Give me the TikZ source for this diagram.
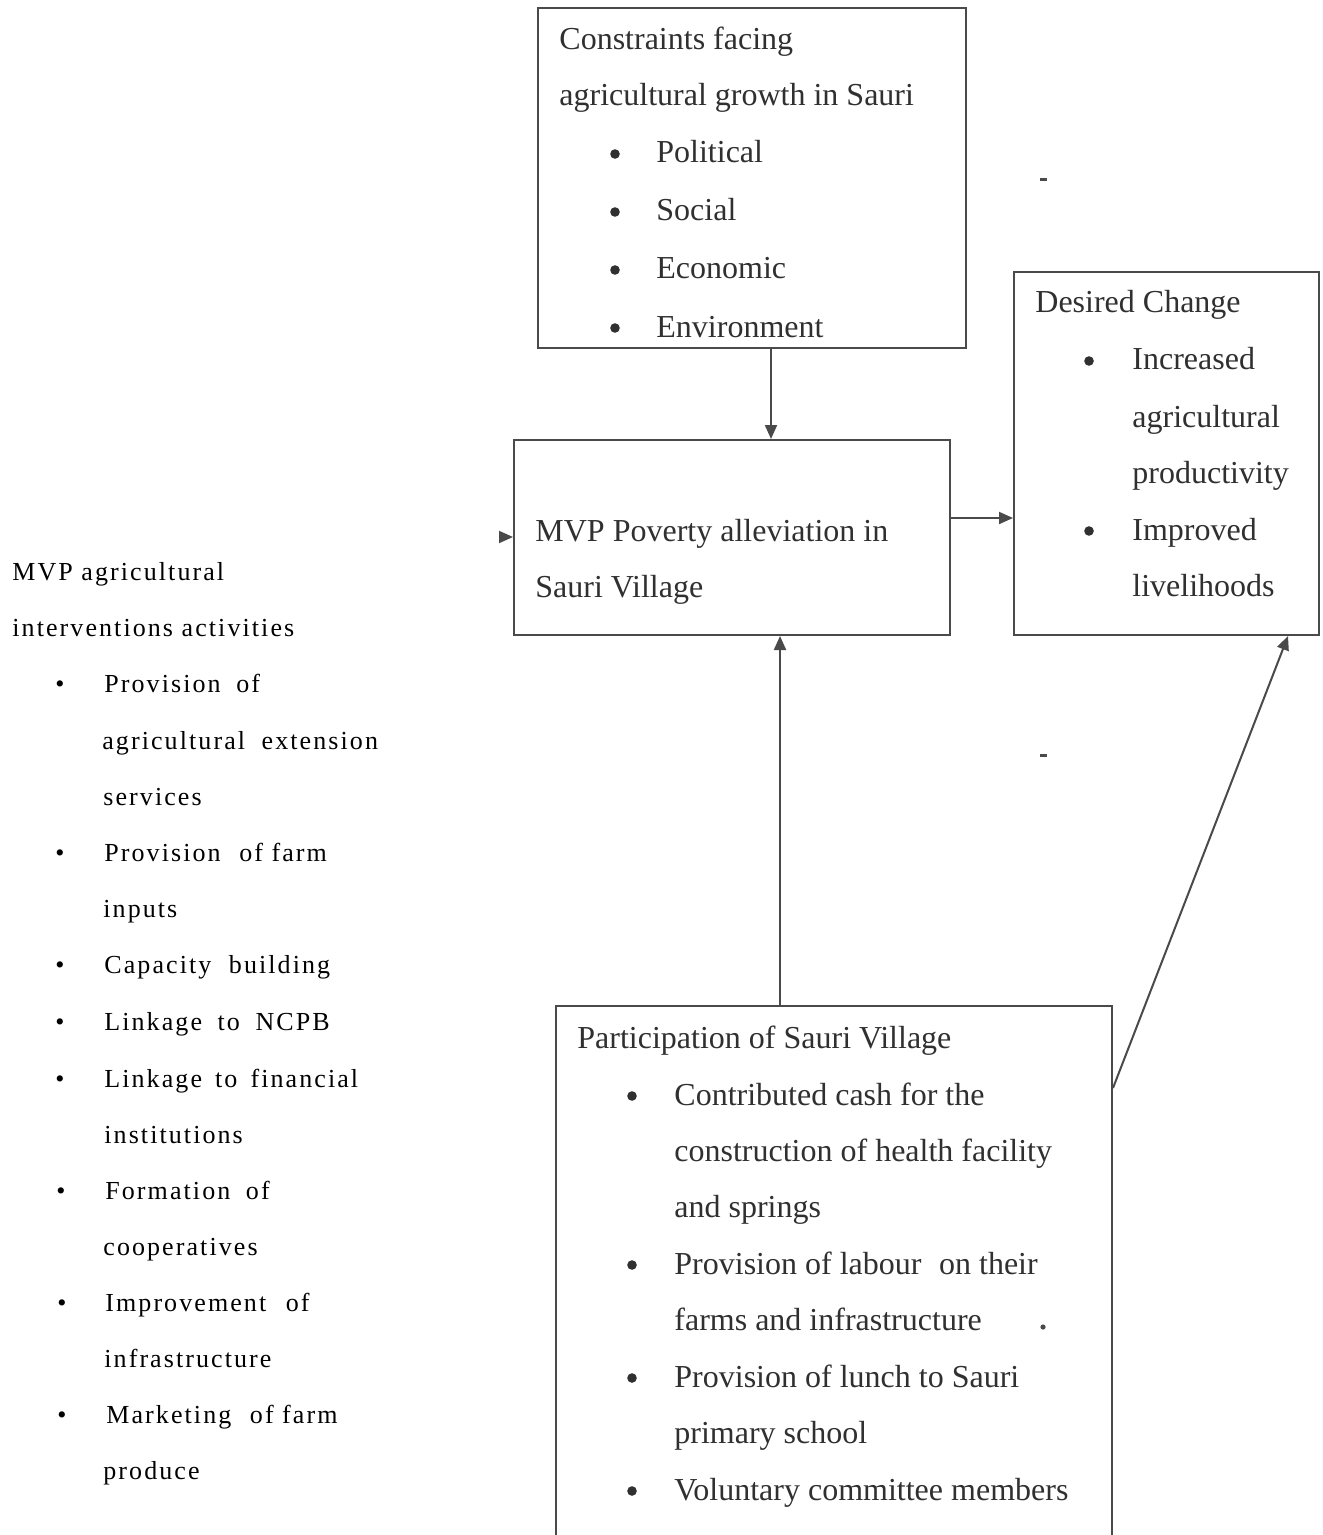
\documentclass[tikz,border=0pt]{standalone}
\usepackage{fontspec}
\setmainfont{Liberation Serif}
\newfontfamily\spacedfont[LetterSpace=8]{Liberation Serif}
\usetikzlibrary{arrows.meta}
\definecolor{linec}{HTML}{4A4A4A}
\definecolor{boxtxt}{HTML}{303030}
\newcommand{\xs}[1]{\ \hspace{#1pt}}
\begin{document}
\begin{tikzpicture}[x=0.5pt,y=-0.5pt,
  box/.style={draw=linec,line width=1pt,inner sep=0pt,rectangle},
  bt/.style={anchor=base west,inner sep=0pt,text=boxtxt,font=\fontsize{16}{19}\selectfont},
  dotb/.style={circle,fill=boxtxt,inner sep=0pt,minimum size=4.8pt},
  lt/.style={anchor=base west,inner sep=0pt,text=black,font=\spacedfont\fontsize{13}{16}\selectfont},
  lb/.style={anchor=base,inner sep=0pt,text=black,font=\fontsize{13}{16}\selectfont},
  arr/.style={draw=linec,line width=1pt,-{Triangle[length=7pt,width=6pt]}},
  speck/.style={draw=linec,line width=1.5pt}]
\useasboundingbox (0,0) rectangle (1322,1535);
\fill[white] (0,0) rectangle (1322,1535);

% boxes
\node[box,minimum width=214pt,minimum height=170pt] (cons) at (752,178) {};
\node[box,minimum width=218pt,minimum height=97.5pt] (mvp) at (732,537.5) {};
\node[box,minimum width=152.5pt,minimum height=181.5pt] (des) at (1166.5,453.5) {};
\node[box,minimum width=278pt,minimum height=269.5pt] (part) at (834,1275.5) {};

% constraints box text
\node[bt] (c1) at (559,50) {Constraints facing};
\node[bt] (c2) at (559,106) {agricultural growth in Sauri};
\node[dotb] (cb1) at (615,154) {};
\node[bt] (c3) at (656,163) {Political};
\node[dotb] (cb2) at (615,212) {};
\node[bt] (c4) at (656,221) {Social};
\node[dotb] (cb3) at (615,270) {};
\node[bt] (c5) at (656,279) {Economic};
\node[dotb] (cb4) at (615,328) {};
\node[bt] (c6) at (656,337) {Environment};

% MVP box text
\node[bt] (m1) at (535,541) {MVP Poverty alleviation in};
\node[bt] (m2) at (535,597) {Sauri Village};

% desired change text
\node[bt] (d1) at (1035,313) {Desired Change};
\node[dotb] (db1) at (1089,361) {};
\node[bt] (d2) at (1132,370) {Increased};
\node[bt] (d3) at (1132,427) {agricultural};
\node[bt] (d4) at (1132,483) {productivity};
\node[dotb] (db2) at (1089,531) {};
\node[bt] (d5) at (1132,540) {Improved};
\node[bt] (d6) at (1132,596) {livelihoods};

% participation text
\node[bt] (p1) at (577,1048) {Participation of Sauri Village};
\node[dotb] (pb1) at (632,1096) {};
\node[bt] (p2) at (674,1105) {Contributed cash for the};
\node[bt] (p3) at (674,1161) {construction of health facility};
\node[bt] (p4) at (674,1217) {and springs};
\node[dotb] (pb2) at (632,1265) {};
\node[bt] (p5) at (674,1274) {Provision of labour\hspace{0.3em} on their};
\node[bt] (p6) at (674,1330) {farms and infrastructure};
\node[dotb] (pb3) at (632,1378) {};
\node[bt] (p7) at (674,1387) {Provision of lunch to Sauri};
\node[bt] (p8) at (674,1443) {primary school};
\node[dotb] (pb4) at (632,1491) {};
\node[bt] (p9) at (674,1500) {Voluntary committee members};

% left text
\node[lt] (l1) at (12,580) {MVP agricultural};
\node[lt] (l2) at (12,636) {interventions activities};
\node[lb] (lb1) at (60,692) {•};
\node[lt] (l3) at (104,692) {Provision\xs{3.5}of};
\node[lt] (l4) at (102,749) {agricultural\xs{4}extension};
\node[lt] (l5) at (103,805) {services};
\node[lb] (lb2) at (60,861) {•};
\node[lt] (l6) at (104,861) {Provision\xs{5}of farm};
\node[lt] (l7) at (103,917) {inputs};
\node[lb] (lb3) at (60,973) {•};
\node[lt] (l8) at (104,973) {Capacity\xs{4.5}building};
\node[lb] (lb4) at (60,1030) {•};
\node[lt] (l9) at (104,1030) {Linkage\xs{3.5}to\xs{3.5}NCPB};
\node[lb] (lb5) at (60,1087) {•};
\node[lt] (l10) at (104,1087) {Linkage\xs{2.25}to\xs{2.25}financial};
\node[lt] (l11) at (104,1143) {institutions};
\node[lb] (lb6) at (61,1199) {•};
\node[lt] (l12) at (105,1199) {Formation\xs{3.5}of};
\node[lt] (l13) at (103,1255) {cooperatives};
\node[lb] (lb7) at (62,1311) {•};
\node[lt] (l14) at (105,1311) {Improvement\xs{5.5}of};
\node[lt] (l15) at (104,1367) {infrastructure};
\node[lb] (lb8) at (62,1423) {•};
\node[lt] (l16) at (106,1423) {Marketing\xs{5}of farm};
\node[lt] (l17) at (103,1479) {produce};

% connectors
\coordinate (xa) at (771,0);
\draw[arr] (cons.south -| xa) -- (mvp.north -| xa);
\coordinate (ya) at (0,518);
\draw[arr] (mvp.east |- ya) -- (des.west |- ya);
\coordinate (xb) at (780,0);
\draw[arr] (part.north -| xb) -- (mvp.south -| xb);
\coordinate (yc) at (0,1088);
\coordinate (xc) at (1288,0);
\draw[arr] (part.east |- yc) -- (des.south -| xc);
\coordinate (la) at (499,537);
\draw[arr] (la) -- (mvp.west |- la);

% small specks
\draw[speck] (1040,180) -- (1047,180);
\draw[speck] (1040,755) -- (1047,755);
\fill[linec] (1043,1327) circle (1.3pt);
\end{tikzpicture}
\end{document}
